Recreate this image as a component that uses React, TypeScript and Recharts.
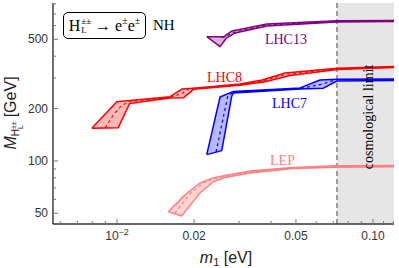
import React from 'react';
import {
  ComposedChart,
  Scatter,
  XAxis,
  YAxis,
  ReferenceArea,
  ReferenceLine,
  ReferenceDot,
} from 'recharts';

type Pt = [number, number];

// ---------- axes ----------
const xDomain: [number, number] = [0.00562, 0.1208];
const yDomain: [number, number] = [43.4, 809];
const cosmologicalLimit = 0.0723;

const xMajorTicks = [0.01, 0.02, 0.05, 0.1];
const xMinorTicks = [0.006, 0.007, 0.008, 0.009, 0.03, 0.04, 0.06, 0.07, 0.08, 0.09, 0.11, 0.12];
const xTickLabels: Record<string, string> = { '0.01': '10', '0.02': '0.02', '0.05': '0.05', '0.1': '0.10' };
const yMajorTicks = [50, 100, 200, 500];
const yMinorTicks = [60, 70, 80, 90, 300, 400, 600, 700, 800];

// ---------- data (m1 [eV], M [GeV]) ----------
const lhc13Band: Pt[] = [
  [0.02241, 518], [0.02526, 454], [0.02666, 506], [0.02891, 544], [0.03854, 597], [0.0723, 629], [0.1208, 634],
  [0.1208, 642], [0.0723, 639], [0.03854, 613], [0.02814, 559], [0.02618, 518], [0.02241, 518],
];
const lhc13Center: Pt[] = [[0.0257, 509], [0.02891, 551], [0.03854, 605], [0.0723, 634], [0.1208, 638]];

const lhc8Band: Pt[] = [
  [0.00797, 154], [0.00997, 219], [0.0161, 234], [0.0179, 259], [0.0199, 262], [0.0302, 277], [0.0369, 292],
  [0.0453, 320], [0.0723, 341], [0.1208, 349],
  [0.1208, 345], [0.0723, 336], [0.0474, 310], [0.0379, 285], [0.0302, 272], [0.0199, 258], [0.0182, 231],
  [0.0161, 230], [0.0112, 214], [0.0101, 155], [0.00797, 154],
];
const lhc8Center: Pt[] = [
  [0.00898, 155], [0.0097, 185], [0.0104, 208], [0.0112, 220], [0.0161, 232], [0.018, 245], [0.019, 260],
  [0.0302, 274], [0.037, 288], [0.046, 315], [0.0723, 338], [0.1208, 347],
];

const lhc7Band: Pt[] = [
  [0.02241, 108.7], [0.02526, 233], [0.02847, 251], [0.0519, 263], [0.0621, 292], [0.0723, 295], [0.1208, 296],
  [0.1208, 290], [0.0723, 288], [0.064, 262], [0.0519, 259], [0.02847, 246], [0.02806, 236], [0.02564, 114.6],
  [0.02241, 108.7],
];
const lhc7Center: Pt[] = [
  [0.02436, 112.6], [0.02714, 240], [0.029, 249], [0.0519, 261], [0.0631, 276], [0.0711, 292], [0.0723, 293],
];

const lepBand: Pt[] = [
  [0.01586, 51.1], [0.01844, 63.8], [0.0211, 74.7], [0.02371, 79.9], [0.02642, 82.5], [0.03307, 87.6],
  [0.0487, 91.8], [0.0723, 93.9], [0.1208, 94.2],
  [0.1208, 92.6], [0.0723, 92.1], [0.0487, 90.5], [0.03307, 85.3], [0.02642, 80.4], [0.02371, 75.7],
  [0.0211, 65.5], [0.01789, 48.3], [0.01586, 51.1],
];
const lepCenter: Pt[] = [
  [0.0168, 50], [0.0195, 66], [0.0225, 77], [0.0264, 81.5], [0.033, 86.5], [0.0487, 91.2], [0.0723, 93],
];

const seriesNames = ['LEP', 'LHC7', 'LHC8', 'LHC13'];
const seriesBands: Record<string, Pt[]> = { LEP: lepBand, LHC7: lhc7Band, LHC8: lhc8Band, LHC13: lhc13Band };
const seriesCenters: Record<string, Pt[]> = { LEP: lepCenter, LHC7: lhc7Center, LHC8: lhc8Center, LHC13: lhc13Center };
const seriesLabelAt: Record<string, Pt> = {
  LHC13: [0.0457, 502],
  LHC8: [0.0263, 304],
  LHC7: [0.0472, 215.4],
  LEP: [0.0443, 101.3],
};
const cosmoLabelAt: Pt = [0.0956, 179];

// ---------- styles ----------
const colors: Record<string, { stroke: string; fill: string }> = {
  LEP: { stroke: '#ff8080', fill: 'rgba(255,128,128,0.35)' },
  LHC7: { stroke: '#0000ff', fill: 'rgba(40,40,255,0.33)' },
  LHC8: { stroke: '#ff0000', fill: 'rgba(255,0,0,0.28)' },
  LHC13: { stroke: '#800080', fill: 'rgba(128,0,128,0.3)' },
};

const SANS = '"Liberation Sans", Arial, sans-serif';
const SERIF = '"Liberation Serif", "Times New Roman", serif';

const toPts = (a: Pt[]) => a.map(([x, y]) => ({ x, y }));
const NoShape = () => null;

const BottomTick = (props: any) => {
  const { x, y, payload } = props;
  const v = payload.value;
  const major = xMajorTicks.includes(v);
  return (
    <g>
      <line x1={x} x2={x} y1={y} y2={y - (major ? 5 : 3)} stroke="#777" strokeWidth={1} />
      {major && (
        <text x={x} y={y + 16} textAnchor="middle" fontSize={12} fontFamily={SANS} fill="#333">
          {v === 0.01 ? (
            <>
              10<tspan dy={-5} fontSize={9}>−2</tspan>
            </>
          ) : (
            xTickLabels[String(v)]
          )}
        </text>
      )}
    </g>
  );
};

const TopTick = (props: any) => {
  const { x, y, payload } = props;
  const major = xMajorTicks.includes(payload.value);
  return <line x1={x} x2={x} y1={y} y2={y + (major ? 5 : 3)} stroke="#777" strokeWidth={1} />;
};

const LeftTick = (props: any) => {
  const { x, y, payload } = props;
  const v = payload.value;
  const major = yMajorTicks.includes(v);
  return (
    <g>
      <line x1={x} x2={x + (major ? 5 : 3)} y1={y} y2={y} stroke="#777" strokeWidth={1} />
      {major && (
        <text x={x - 5} y={y + 4} textAnchor="end" fontSize={12} fontFamily={SANS} fill="#333">
          {String(v)}
        </text>
      )}
    </g>
  );
};

const RightTick = (props: any) => {
  const { x, y, payload } = props;
  const major = yMajorTicks.includes(payload.value);
  return <line x1={x} x2={x - (major ? 5 : 3)} y1={y} y2={y} stroke="#777" strokeWidth={1} />;
};

export default function App() {
  const xTicks = [...xMajorTicks, ...xMinorTicks].sort((a, b) => a - b);
  const yTicks = [...yMajorTicks, ...yMinorTicks].sort((a, b) => a - b);
  return (
    <div style={{ position: 'absolute', left: 0, top: 0, width: 399, height: 268, background: '#fff', overflow: 'hidden' }}>
      <ComposedChart width={399} height={268} margin={{ top: 3, right: 5, bottom: 14, left: 0 }}>
        <XAxis
          xAxisId="b"
          dataKey="x"
          type="number"
          scale="log"
          domain={xDomain}
          allowDataOverflow
          ticks={xTicks}
          interval={0}
          tickSize={0}
          tickMargin={0}
          tick={<BottomTick />}
          height={30}
          axisLine={{ stroke: '#333', strokeWidth: 1.3 }}
        />
        <XAxis
          xAxisId="t"
          orientation="top"
          dataKey="x"
          type="number"
          scale="log"
          domain={xDomain}
          allowDataOverflow
          ticks={xTicks}
          interval={0}
          tickSize={0}
          tickMargin={0}
          tick={<TopTick />}
          height={0}
          axisLine={{ stroke: '#333', strokeWidth: 1.3 }}
        />
        <YAxis
          yAxisId="l"
          dataKey="y"
          type="number"
          scale="log"
          domain={yDomain}
          allowDataOverflow
          ticks={yTicks}
          interval={0}
          tickSize={0}
          tickMargin={0}
          tick={<LeftTick />}
          width={53}
          axisLine={{ stroke: '#222', strokeWidth: 1.3 }}
        />
        <YAxis
          yAxisId="r"
          orientation="right"
          dataKey="y"
          type="number"
          scale="log"
          domain={yDomain}
          allowDataOverflow
          ticks={yTicks}
          interval={0}
          tickSize={0}
          tickMargin={0}
          tick={<RightTick />}
          width={0}
          axisLine={{ stroke: '#666', strokeWidth: 1.3 }}
        />
        <ReferenceArea
          xAxisId="b"
          yAxisId="l"
          x1={cosmologicalLimit}
          x2={xDomain[1]}
          y1={yDomain[0]}
          y2={yDomain[1]}
          fill="#e6e6e6"
          fillOpacity={1}
          stroke="none"
        />
        <ReferenceLine
          xAxisId="b"
          yAxisId="l"
          x={cosmologicalLimit}
          stroke="#666"
          strokeWidth={1.2}
          strokeDasharray="5 3"
        />
        {seriesNames.map((n) => (
          <Scatter
            key={n + '-band'}
            xAxisId="b"
            yAxisId="l"
            data={toPts(seriesBands[n])}
            shape={NoShape}
            isAnimationActive={false}
            lineType="joint"
            line={{ stroke: colors[n].stroke, fill: colors[n].fill, strokeWidth: 1.5, strokeLinejoin: 'round' }}
            legendType="none"
          />
        ))}
        {seriesNames.map((n) => (
          <Scatter
            key={n + '-center'}
            xAxisId="b"
            yAxisId="l"
            data={toPts(seriesCenters[n])}
            shape={NoShape}
            isAnimationActive={false}
            lineType="joint"
            line={{ stroke: colors[n].stroke, fill: 'none', strokeWidth: 1.2, strokeDasharray: '3 3' }}
            legendType="none"
          />
        ))}
        {seriesNames.map((n) => (
          <ReferenceDot
            key={n + '-label'}
            xAxisId="b"
            yAxisId="l"
            x={seriesLabelAt[n][0]}
            y={seriesLabelAt[n][1]}
            r={0}
            fill="none"
            stroke="none"
            label={{ value: n, position: 'center', fill: colors[n].stroke, fontSize: 14, fontFamily: SERIF }}
          />
        ))}
        <ReferenceDot
          xAxisId="b"
          yAxisId="l"
          x={cosmoLabelAt[0]}
          y={cosmoLabelAt[1]}
          r={0}
          fill="none"
          stroke="none"
          label={{ value: 'cosmological limit', position: 'center', angle: -90, fill: '#000', fontSize: 14, fontFamily: SERIF }}
        />
      </ComposedChart>

      {/* legend box */}
      <div
        style={{
          position: 'absolute',
          left: 63,
          top: 12,
          width: 83,
          height: 27,
          boxSizing: 'border-box',
          border: '1.8px solid #000',
          borderRadius: 5,
          display: 'flex',
          alignItems: 'center',
          justifyContent: 'center',
          fontFamily: SERIF,
          fontSize: 16,
          color: '#000',
          whiteSpace: 'nowrap',
        }}
      >
        <span>H</span>
        <span
          style={{
            display: 'inline-flex',
            flexDirection: 'column',
            fontSize: 9,
            lineHeight: '9px',
            marginLeft: 1,
            marginRight: 4,
          }}
        >
          <span>±±</span>
          <span>L</span>
        </span>
        <span>→ e</span>
        <span style={{ fontSize: 10, position: 'relative', top: -5 }}>±</span>
        <span>e</span>
        <span style={{ fontSize: 10, position: 'relative', top: -5 }}>±</span>
      </div>
      <div
        style={{
          position: 'absolute',
          left: 153,
          top: 16,
          fontFamily: SERIF,
          fontSize: 15,
          lineHeight: '18px',
          color: '#000',
        }}
      >
        NH
      </div>

      {/* y-axis title */}
      <div
        style={{
          position: 'absolute',
          left: 11,
          top: 113,
          transform: 'translate(-50%, -50%) rotate(-90deg)',
          whiteSpace: 'nowrap',
          fontFamily: SANS,
          fontSize: 16,
          lineHeight: '20px',
          color: '#222',
          display: 'flex',
          alignItems: 'center',
        }}
      >
        <i>M</i>
        <span style={{ fontSize: 10, position: 'relative', top: 5 }}>H</span>
        <span
          style={{
            display: 'inline-flex',
            flexDirection: 'column',
            fontSize: 7,
            lineHeight: '7px',
            position: 'relative',
            top: 6,
          }}
        >
          <span>±±</span>
          <span>L</span>
        </span>
        <span style={{ marginLeft: 4 }}>[GeV]</span>
      </div>

      {/* x-axis title */}
      <div
        style={{
          position: 'absolute',
          left: 226,
          top: 258,
          transform: 'translate(-50%, -50%)',
          whiteSpace: 'nowrap',
          fontFamily: SANS,
          fontSize: 16,
          lineHeight: '16px',
          color: '#222',
        }}
      >
        <i>m</i>
        <span style={{ fontSize: 11, position: 'relative', top: 3 }}>1</span>
        <span> [eV]</span>
      </div>
    </div>
  );
}
